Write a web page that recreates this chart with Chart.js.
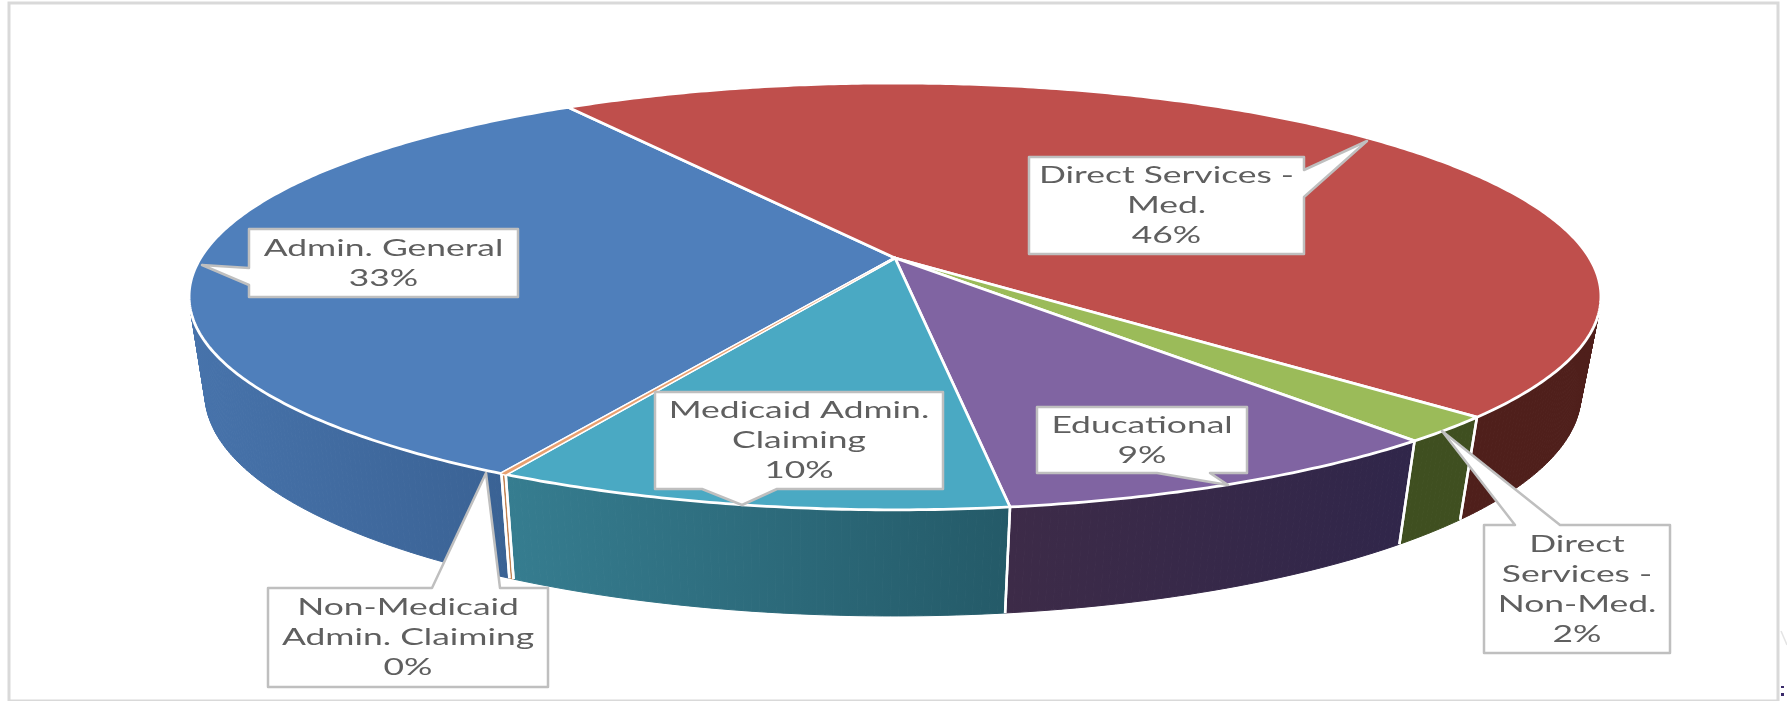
<!DOCTYPE html>
<html>
<head>
<meta charset="utf-8">
<title>Spending by category</title>
<style>
  html, body { margin: 0; background: #fff; }
  canvas { display: block; }
</style>
<script src="https://cdn.jsdelivr.net/npm/chart.js@4/dist/chart.umd.min.js"></script>
</head>
<body>
<canvas id="pie" width="1787" height="701"></canvas>
<script>
const categories = [
  "Admin. General",
  "Direct Services - Med.",
  "Direct Services - Non-Med.",
  "Educational",
  "Medicaid Admin. Claiming",
  "Non-Medicaid Admin. Claiming",
];
const percents = [33, 46, 2, 9, 10, 0.1];

const topColors = ["#4f7fbb", "#bf4f4c", "#9bbb59", "#8064a2", "#4aa9c3", "#e8a070"];
const wallColors = [
  ["#4773ab", "#3a6294"],
  ["#4f1f1b", "#4f1f1b"],
  ["#3f4f20", "#3f4f20"],
  ["#3d2b48", "#30264a"],
  ["#367d90", "#245a68"],
  ["#c08050", "#c08050"],
];

// how each label is broken into lines, and where its box and pointer sit
const labelLines = [
  ["Admin. General"],
  ["Direct Services -", "Med."],
  ["Direct", "Services -", "Non-Med."],
  ["Educational"],
  ["Medicaid Admin.", "Claiming"],
  ["Non-Medicaid", "Admin. Claiming"],
];
const callouts = [
  { box: [249, 229, 518, 297], tip: [202, 265], side: "left", base: [268, 285] },
  { box: [1029, 157, 1304, 254], tip: [1367, 141], side: "right", base: [170, 197] },
  { box: [1484, 525, 1670, 653], tip: [1442, 431], side: "top", base: [1515, 1560] },
  { box: [1037, 407, 1247, 473], tip: [1228, 485], side: "bottom", base: [1157, 1210] },
  { box: [655, 392, 943, 489], tip: [742, 505], side: "bottom", base: [702, 777] },
  { box: [268, 588, 548, 687], tip: [486, 473], side: "top", base: [432, 500] },
];

// perspective planes for the upper face and the lower rim of the disc
const topPlane = { cx: 895, cy: 258, a: 694.4, b: 206.5, p: 0.18 };
const lowPlane = { cx: 893, cy: 354, a: 676.8, b: 214.8, p: 0.18 };

function project(plane, angle) {
  const x = Math.cos(angle), y = Math.sin(angle);
  const w = 1 - plane.p * y;
  return [plane.cx + plane.a * x / w, plane.cy + plane.b * y / w];
}

function rimPoints(plane, start, end) {
  const steps = Math.max(2, Math.ceil((end - start) / 0.01));
  const pts = [];
  for (let i = 0; i <= steps; i++) {
    pts.push(project(plane, start + (end - start) * i / steps));
  }
  return pts;
}

function tracePoly(ctx, pts) {
  ctx.beginPath();
  pts.forEach((p, i) => (i ? ctx.lineTo(p[0], p[1]) : ctx.moveTo(p[0], p[1])));
}

function drawWall(ctx, arc, i) {
  const upper = rimPoints(topPlane, arc.startAngle, arc.endAngle);
  const lower = rimPoints(lowPlane, arc.startAngle, arc.endAngle);
  // only the part of the slice facing the viewer sets the shading range
  const front = upper.concat(lower).filter((p) => p[1] > 300);
  const xs = front.length ? front.map((p) => p[0]) : [0, 1];
  const grad = ctx.createLinearGradient(Math.min(...xs), 0, Math.max(...xs), 0);
  grad.addColorStop(0, wallColors[i][0]);
  grad.addColorStop(1, wallColors[i][1]);
  ctx.fillStyle = grad;
  ctx.strokeStyle = grad;
  ctx.lineWidth = 1;
  // short quads rather than one polygon, so the outline follows the side edge
  for (let n = 0; n < upper.length - 1; n++) {
    tracePoly(ctx, [upper[n], upper[n + 1], lower[n + 1], lower[n]]);
    ctx.closePath();
    ctx.fill();
    ctx.stroke();
  }
}

function drawWallEdges(ctx, arc) {
  [arc.startAngle, arc.endAngle].forEach((a) => {
    tracePoly(ctx, [project(topPlane, a), project(lowPlane, a)]);
    ctx.strokeStyle = "#fff";
    ctx.lineWidth = 2.5;
    ctx.stroke();
  });
}

function traceFace(ctx, arc) {
  const pts = rimPoints(topPlane, arc.startAngle, arc.endAngle);
  tracePoly(ctx, [[topPlane.cx, topPlane.cy]].concat(pts));
  ctx.closePath();
}

function drawFace(ctx, arc, i) {
  traceFace(ctx, arc);
  ctx.fillStyle = topColors[i];
  ctx.fill();
  ctx.strokeStyle = "#fff";
  ctx.lineWidth = 2.8;
  ctx.lineJoin = "round";
  ctx.stroke();
}

function calloutPath(c) {
  const [l, t, r, b] = c.box;
  const [b0, b1] = c.base;
  if (c.side === "left") return [[l, t], [r, t], [r, b], [l, b], [l, b1], c.tip, [l, b0]];
  if (c.side === "right") return [[l, t], [r, t], [r, b0], c.tip, [r, b1], [r, b], [l, b]];
  if (c.side === "top") return [[l, t], [b0, t], c.tip, [b1, t], [r, t], [r, b], [l, b]];
  return [[l, t], [r, t], [r, b], [b1, b], c.tip, [b0, b], [l, b]];
}

function drawCallout(ctx, i) {
  const c = callouts[i];
  tracePoly(ctx, calloutPath(c));
  ctx.closePath();
  ctx.fillStyle = "#fff";
  ctx.fill();
  ctx.strokeStyle = "#bfbfbf";
  ctx.lineWidth = 2.5;
  ctx.lineJoin = "round";
  ctx.stroke();

  const lines = labelLines[i].concat(Math.round(percents[i]) + "%");
  const mid = (c.box[0] + c.box[2]) / 2;
  const first = (c.box[1] + c.box[3]) / 2 - (lines.length - 1) * 15;
  ctx.font = '23px Lato';
  ctx.fillStyle = "#5f5f5f";
  ctx.textAlign = "center";
  ctx.textBaseline = "middle";
  lines.forEach((line, n) => {
    ctx.save();
    ctx.translate(mid, first + n * 30 + 0.5);
    ctx.scale(1.54, 1);
    ctx.fillText(line, 0, 0);
    ctx.restore();
  });
}

const pie3d = {
  id: "pie3d",
  beforeDatasetsDraw(chart) {
    const ctx = chart.ctx;
    const arcs = chart.getDatasetMeta(0).data;
    ctx.save();

    // thin frame round the chart area
    ctx.strokeStyle = "#d9d9d9";
    ctx.lineWidth = 3;
    ctx.strokeRect(9, 3, 1769, 698);
    // scraps of the neighbouring page at the lower right corner
    ctx.strokeStyle = "#e4e4e4";
    ctx.lineWidth = 1.5;
    tracePoly(ctx, [[1781, 631], [1787, 645]]);
    ctx.stroke();
    ctx.fillStyle = "#3a2a6a";
    ctx.fillRect(1781, 686, 3, 2);
    ctx.fillRect(1781, 693, 3, 3);

    arcs.forEach((arc, i) => drawWall(ctx, arc, i));
    arcs.forEach((arc) => drawWallEdges(ctx, arc));
    arcs.forEach((arc, i) => drawFace(ctx, arc, i));
    // the near-zero slice is thinner than its own border, fill it once more
    arcs.forEach((arc, i) => {
      if (percents[i] < 1) {
        traceFace(ctx, arc);
        ctx.fillStyle = topColors[i];
        ctx.fill();
      }
    });
    arcs.forEach((arc, i) => drawCallout(ctx, i));
    ctx.restore();
    return false;
  },
};

new Chart(document.getElementById("pie"), {
  type: "pie",
  data: {
    labels: categories,
    datasets: [{ data: percents, backgroundColor: topColors }],
  },
  options: {
    responsive: false,
    animation: false,
    rotation: 208.5,
    plugins: { legend: { display: false }, tooltip: { enabled: false } },
  },
  plugins: [pie3d],
});
</script>
</body>
</html>
